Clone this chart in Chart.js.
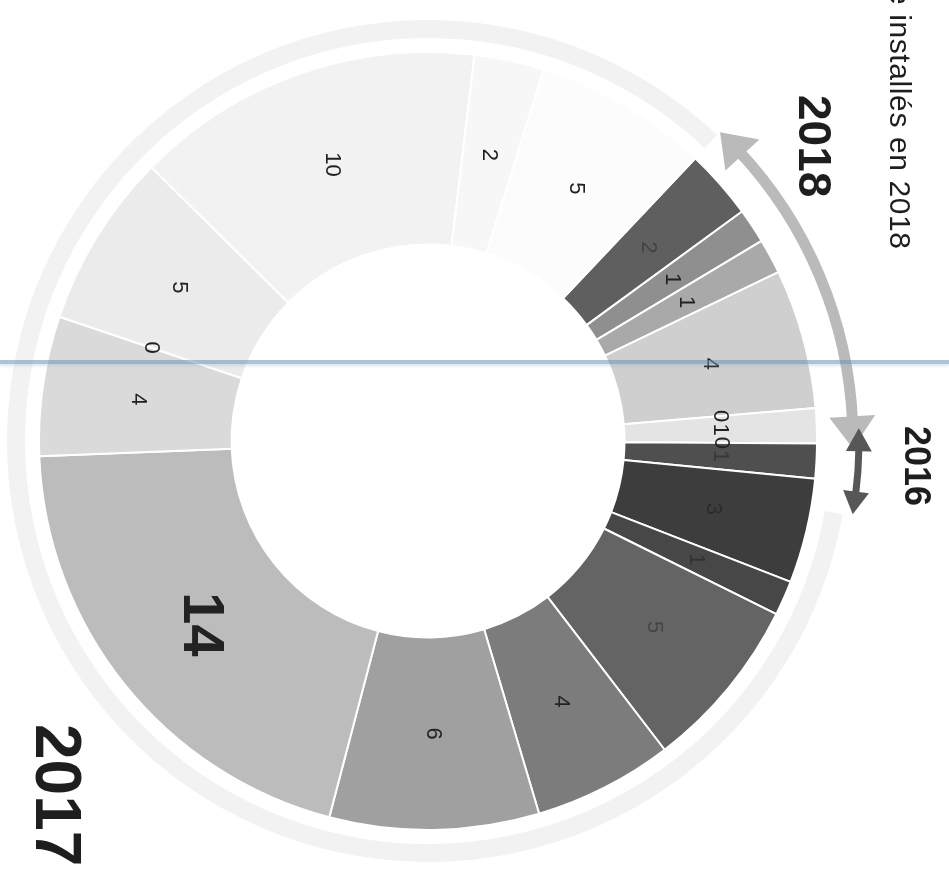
<!DOCTYPE html>
<html>
<head>
<meta charset="utf-8">
<script src="https://cdn.jsdelivr.net/npm/chart.js@4.4.1/dist/chart.umd.min.js"></script>
<style>
  html, body { margin: 0; padding: 0; background: #fff; }
  #wrap { position: relative; width: 949px; height: 874px; overflow: hidden; }
  #wrap canvas { position: absolute; left: 0; top: 0; }
  .vt {
    position: absolute;
    writing-mode: vertical-rl;
    font-family: "Liberation Sans", Arial, sans-serif;
    color: #1e1e1e;
    white-space: nowrap;
    line-height: 1;
  }
  #title { left: 885px; top: -12px; font-size: 30px; letter-spacing: 0.6px; }
  #y2018 { left: 792px; top: 95px; font-size: 46px; font-weight: bold; }
  #y2016 { left: 899px; top: 426px; font-size: 36px; font-weight: bold; }
  #y2017 { left: 26px; top: 724px; font-size: 64px; font-weight: bold; }
  #scan {
    position: absolute; left: 0; top: 360px; width: 949px; height: 4px;
    background: rgba(105, 145, 180, 0.55);
    box-shadow: 0 2px 3px rgba(150, 180, 205, 0.35);
  }
</style>
</head>
<body>
<div id="wrap">
  <canvas id="chart"></canvas>
  <div class="vt" id="title">e installés en 2018</div>
  <div class="vt" id="y2018">2018</div>
  <div class="vt" id="y2016">2016</div>
  <div class="vt" id="y2017">2017</div>
  <div id="scan"></div>
</div>
<script>
// slices, clockwise from the dark 2018 slice
const categories = [
  '2018-1', '2018-2', '2018-3', '2018-4', '2018-5', '2018-6', '2018-7',
  '2016-1', '2016-2', '2016-3',
  '2017-1', '2017-2', '2017-3', '2017-4', '2017-5', '2017-6', '2017-7', '2017-8', '2017-9', '2017-10'
];
const values = [2, 1, 1, 4, 0, 1, 0, 1, 3, 1, 5, 4, 6, 14, 4, 0, 5, 10, 2, 5];
const colors = [
  '#5f5f5f', '#8f8f8f', '#a9a9a9', '#cfcfcf', '#dedede', '#e4e4e4', '#e8e8e8',
  '#4f4f4f', '#3d3d3d', '#474747',
  '#646464', '#7c7c7c', '#a0a0a0', '#bcbcbc', '#dadada', '#e0e0e0', '#ebebeb', '#f2f2f2', '#f7f7f7', '#fcfcfc'
];

// hand drawn year arrows around the ring (degrees, clockwise from top)
const arrows = [
  { from: 100, to: 403.4, r: 412, width: 18, color: '#f2f2f2', head: 0 },
  { from: 43.4, to: 91, r: 425, width: 11, color: '#bababa', head: 32, headW: 46 },
  { from: 88.3, to: 99.8, r: 431, width: 7, color: '#575757', head: 23, headW: 26 }
];

const toRad = d => (d - 90) * Math.PI / 180;

function drawArrow(ctx, cx, cy, a) {
  const h = a.head ? a.head / a.r : 0;
  const s = toRad(a.from), e = toRad(a.to);
  ctx.strokeStyle = a.color;
  ctx.fillStyle = a.color;
  ctx.lineWidth = a.width;
  ctx.beginPath();
  ctx.arc(cx, cy, a.r, s + h * 0.8, e - h * 0.8);
  ctx.stroke();
  if (!a.head) return;
  [[e, -h], [s, h]].forEach(([tip, back]) => {
    const b = tip + back;
    ctx.beginPath();
    ctx.moveTo(cx + a.r * Math.cos(tip), cy + a.r * Math.sin(tip));
    ctx.lineTo(cx + (a.r + a.headW / 2) * Math.cos(b), cy + (a.r + a.headW / 2) * Math.sin(b));
    ctx.lineTo(cx + (a.r - a.headW / 2) * Math.cos(b), cy + (a.r - a.headW / 2) * Math.sin(b));
    ctx.closePath();
    ctx.fill();
  });
}

const yearArrows = {
  id: 'yearArrows',
  afterDatasetsDraw(chart) {
    const arc = chart.getDatasetMeta(0).data[0];
    const ctx = chart.ctx;
    ctx.save();
    arrows.forEach(a => drawArrow(ctx, arc.x, arc.y, a));
    ctx.restore();
  }
};

// dark text on the dark slices is nearly lost in the original
const labelColor = hex => parseInt(hex.slice(1, 3), 16) < 0x70 ? 'rgba(0,0,0,0.3)' : '#222';

const valueLabels = {
  id: 'valueLabels',
  afterDatasetsDraw(chart) {
    const ctx = chart.ctx;
    const maxV = Math.max(...values);
    chart.getDatasetMeta(0).data.forEach((arc, i) => {
      const p = arc.tooltipPosition();
      ctx.save();
      ctx.translate(p.x, p.y);
      ctx.rotate(Math.PI / 2);
      ctx.font = values[i] === maxV ? 'bold 58px "Liberation Sans"' : '22px "Liberation Sans"';
      ctx.fillStyle = values[i] === maxV ? '#222' : labelColor(colors[i]);
      ctx.textAlign = 'center';
      ctx.textBaseline = 'middle';
      ctx.fillText(String(values[i]), 0, 0);
      ctx.restore();
    });
  }
};

const canvas = document.getElementById('chart');
canvas.width = 949;
canvas.height = 874;

new Chart(canvas, {
  type: 'doughnut',
  data: {
    labels: categories,
    datasets: [{
      data: values,
      backgroundColor: colors,
      borderColor: '#ffffff',
      borderWidth: 2
    }]
  },
  options: {
    responsive: false,
    animation: false,
    rotation: 43.4,
    cutout: '50.5%',
    layout: { padding: { left: 38, right: 131, top: 51, bottom: 43 } },
    plugins: {
      legend: { display: false },
      tooltip: { enabled: false }
    }
  },
  plugins: [yearArrows, valueLabels]
});
</script>
</body>
</html>
